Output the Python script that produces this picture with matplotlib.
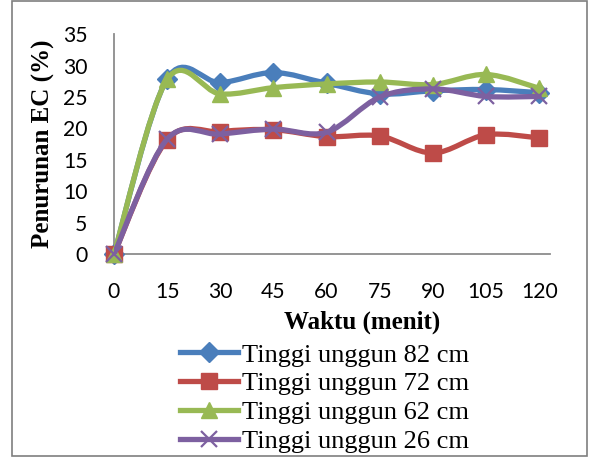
import matplotlib
matplotlib.use("Agg")
import matplotlib.pyplot as plt
from matplotlib.path import Path
from matplotlib.patches import PathPatch, Rectangle
from matplotlib.lines import Line2D
import numpy as np

waktu = [0, 15, 30, 45, 60, 75, 90, 105, 120]
tinggi_82 = [0, 27.9, 27.3, 28.9, 27.2, 25.5, 26.0, 26.2, 25.7]
tinggi_72 = [0, 18.2, 19.5, 19.8, 18.7, 18.8, 16.1, 19.0, 18.5]
tinggi_62 = [0, 27.8, 25.5, 26.5, 27.1, 27.4, 27.0, 28.6, 26.4]
tinggi_26 = [0, 18.3, 19.1, 19.9, 19.4, 25.0, 26.3, 25.1, 25.1]
labels = ["Tinggi unggun 82 cm", "Tinggi unggun 72 cm",
          "Tinggi unggun 62 cm", "Tinggi unggun 26 cm"]

colors = ["#4a7ebb", "#be4b48", "#98b954", "#7d60a0"]
markers = ["D", "s", "^", "x"]
msizes = [10, 12, 12, 12]


def smooth_path(xs, ys):
    # Excel-style smoothed line: cubic Bezier with Catmull-Rom tangents
    pts = np.column_stack([xs, ys]).astype(float)
    n = len(pts)
    verts = [pts[0]]
    codes = [Path.MOVETO]
    for i in range(n - 1):
        p0 = pts[max(i - 1, 0)]
        p1 = pts[i]
        p2 = pts[i + 1]
        p3 = pts[min(i + 2, n - 1)]
        c1 = p1 + (p2 - p0) / 6.0
        c2 = p2 - (p3 - p1) / 6.0
        verts += [c1, c2, p2]
        codes += [Path.CURVE4] * 3
    return Path(verts, codes)


fig = plt.figure(figsize=(5.89, 4.57), dpi=100)
ax = fig.add_axes([0.1935, 0.444, 0.740, 0.481])

series = [tinggi_82, tinggi_72, tinggi_62, tinggi_26]
handles = []
for k, ys in enumerate(series):
    z = 2 + k * 2
    patch = PathPatch(smooth_path(waktu, ys), facecolor="none",
                      edgecolor=colors[k], lw=3.8, zorder=z,
                      capstyle="round", joinstyle="round")
    ax.add_patch(patch)
    if markers[k] == "x":
        ax.plot(waktu, ys, ls="none", marker="x", ms=msizes[k], mew=1.6,
                color=colors[k], zorder=z + 1, clip_on=False)
    else:
        ax.plot(waktu, ys, ls="none", marker=markers[k], ms=msizes[k],
                mfc=colors[k], mec=colors[k], zorder=z + 1, clip_on=False)
    handles.append(Line2D([], [], color=colors[k], lw=3.8, marker=markers[k],
                          ms=msizes[k], mew=1.6 if markers[k] == "x" else 1,
                          mfc=colors[k], mec=colors[k]))

ax.set_xlim(0, 123)
ax.set_ylim(0, 35)
ax.set_xticks(waktu)
ax.set_yticks(range(0, 36, 5))
ax.tick_params(length=0, labelsize=15.2, labelfontfamily="Lato")
ax.tick_params(axis="x", pad=20)
ax.tick_params(axis="y", pad=19)
for s in ["top", "right"]:
    ax.spines[s].set_visible(False)
for s in ["left", "bottom"]:
    ax.spines[s].set_color("#8c8c8c")
    ax.spines[s].set_linewidth(1.3)

ax.set_ylabel("Penurunan EC (%)", fontfamily="Liberation Serif",
              fontweight="bold", fontsize=18, labelpad=6)
fig.text(0.615, 0.295, "Waktu (menit)", fontfamily="Liberation Serif",
         fontweight="bold", fontsize=18, ha="center", va="center")

fig.legend(handles, labels, loc="upper left", bbox_to_anchor=(0.305, 0.249),
           frameon=False, handlelength=2.2, handletextpad=0.15,
           labelspacing=0.2, borderpad=0, borderaxespad=0,
           prop={"family": "Liberation Serif", "size": 19})

fig.add_artist(Rectangle((0.021, 0.003), 0.976, 0.994, transform=fig.transFigure,
                         fill=False, edgecolor="#7f7f7f", lw=1.2))

fig.savefig("out.png", dpi=100)
